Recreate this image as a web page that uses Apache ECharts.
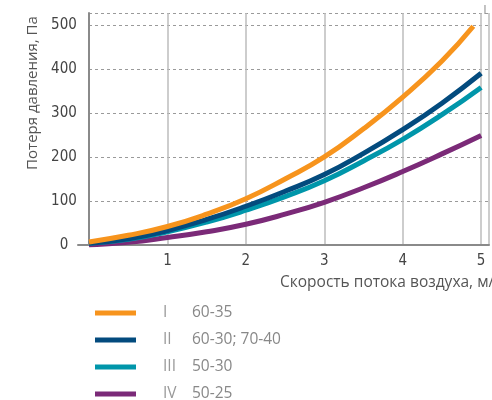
<!DOCTYPE html>
<html>
<head>
<meta charset="utf-8">
<script src="https://cdn.jsdelivr.net/npm/echarts@6/dist/echarts.min.js"></script>
<style>html,body{margin:0;padding:0;background:#fff}#c{width:492px;height:400px}</style>
</head>
<body>
<div id="c"></div>
<script>
// Air velocity, m/s
var xValues = [0, 0.5, 1, 1.5, 2, 2.5, 3, 3.5, 4, 4.5, 5];
var xValuesOrange = [0, 0.5, 1, 1.5, 2, 2.5, 3, 3.5, 4, 4.5, 4.9];
// Pressure loss, Pa
var seriesI   = [7, 22, 42, 70, 105, 150, 200, 264, 336, 418, 497];
var seriesII  = [4, 14, 33, 58, 88, 122, 160, 208, 262, 322, 390];
var seriesIII = [4, 13, 30, 52, 79, 110, 146, 191, 240, 296, 358];
var seriesIV  = [0, 6, 17, 30, 47, 70, 97, 130, 167, 207, 249];
var numerals = ['I', 'II', 'III', 'IV'];
var models = ['60-35', '60-30; 70-40', '50-30', '50-25'];
var colors = ['#F7941D', '#034B7E', '#0096AA', '#7B2A78'];
var yTicks = [0, 100, 200, 300, 400, 500];
var xTicks = [1, 2, 3, 4, 5];
var xAxisName = 'Скорость потока воздуха, м/с';
var yAxisName = 'Потеря давления, Па';

function pairs(xs, ys) { return xs.map(function (x, i) { return [x, ys[i]]; }); }

var names = numerals.map(function (n, i) { return n + '|' + models[i]; });
var dataSets = [pairs(xValuesOrange, seriesI), pairs(xValues, seriesII), pairs(xValues, seriesIII), pairs(xValues, seriesIV)];

var labelFont = '"Liberation Sans Narrow","DejaVu Sans Condensed",sans-serif';
var textFont = '"Open Sans",sans-serif';
var chart = echarts.init(document.getElementById('c'));
chart.setOption({
  animation: false,
  title: {
    text: xAxisName, left: 275, top: 270,
    textStyle: { color: '#555', fontSize: 15.5, fontWeight: 'normal', fontFamily: textFont }
  },
  grid: [
    { left: 89, top: 13, width: 404, height: 232 },
    { left: 78, top: 13, width: 404, height: 232 }
  ],
  xAxis: [{
    type: 'value', gridIndex: 0, min: 0, max: 5.1, interval: 1,
    axisLine: { show: true, lineStyle: { color: '#8a8a8a', width: 2 } },
    axisTick: { show: false },
    axisLabel: { margin: 9, color: '#444', fontSize: 15, fontFamily: labelFont,
      formatter: function (v) { return xTicks.indexOf(v) >= 0 ? String(v) : ''; } },
    splitLine: { show: true, lineStyle: { color: '#bdbdbd', width: 1.5, type: 'solid' } }
  }, {
    type: 'value', gridIndex: 1, min: 0, max: 1,
    axisLine: { show: true, onZero: false, lineStyle: { color: '#8a8a8a', width: 2 } },
    axisTick: { show: false }, axisLabel: { show: false }, splitLine: { show: false }
  }],
  yAxis: [{
    type: 'value', gridIndex: 0, min: 0, max: 527, interval: 100,
    axisLine: { show: true, lineStyle: { color: '#8a8a8a', width: 2 } },
    axisTick: { show: false },
    axisLabel: { margin: 25, align: 'center', color: '#444', fontSize: 15, fontFamily: labelFont,
      formatter: function (v) { return yTicks.indexOf(v) >= 0 ? String(v) : ''; } },
    splitLine: { show: true, lineStyle: { color: '#9a9a9a', width: 1, type: [3, 3] } },
    name: yAxisName, nameLocation: 'middle', nameGap: 49, nameRotate: 90,
    nameTextStyle: { color: '#555', fontSize: 15, fontFamily: textFont, padding: [0, 0, 0, 72] }
  }, {
    type: 'value', gridIndex: 1, show: false, min: 0, max: 1
  }],
  legend: {
    orient: 'vertical', left: 90, top: 298, height: 120, itemWidth: 41, itemHeight: 5, itemGap: 7,
    icon: 'rect',
    data: names,
    formatter: function (name) {
      var p = name.split('|');
      return '{a|' + p[0] + '}{b|' + p[1] + '}';
    },
    textStyle: {
      color: '#888', fontSize: 15.5, fontFamily: textFont, lineHeight: 20,
      rich: {
        a: { width: 29, padding: [0, 0, 0, 22], color: '#999', fontSize: 15.5, fontFamily: textFont },
        b: { color: '#888', fontSize: 15.5, fontFamily: textFont }
      }
    }
  },
  series: names.map(function (n, i) {
    var s = {
      name: n, type: 'line', xAxisIndex: 0, yAxisIndex: 0,
      data: dataSets[i], smooth: 0.5, showSymbol: false, symbol: 'none',
      color: colors[i],
      lineStyle: { color: colors[i], width: 5 },
      z: 10 - i
    };
    if (i === 0) {
      s.endLabel = { show: true, formatter: numerals[0], color: '#999', fontSize: 13,
        fontFamily: labelFont, offset: [2, -16] };
    }
    return s;
  })
});
</script>
</body>
</html>
